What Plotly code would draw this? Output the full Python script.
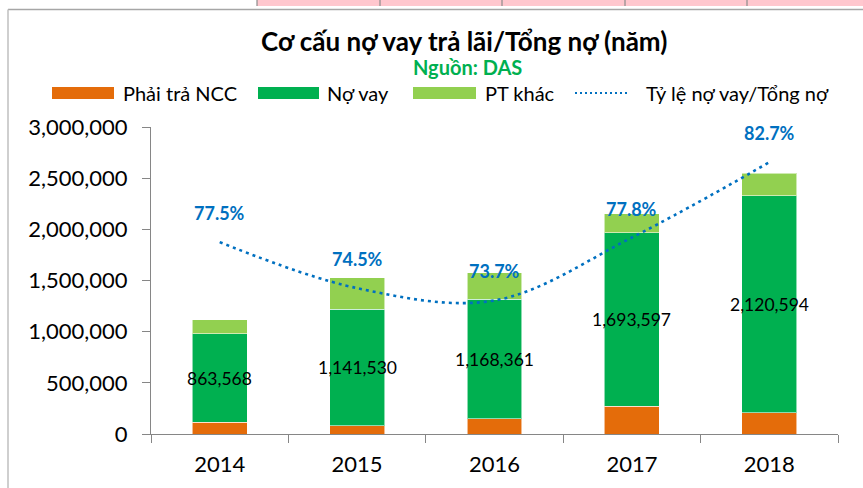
import plotly.graph_objects as go

years = ["2014", "2015", "2016", "2017", "2018"]
phai_tra_ncc = [115000, 80000, 148000, 273000, 206000]
no_vay = [863568, 1141530, 1168361, 1693597, 2120594]
pt_khac = [137000, 303000, 257000, 186000, 221000]
ty_le = [0.775, 0.745, 0.737, 0.778, 0.827]

C_ORANGE = "#E46C0A"
C_GREEN = "#00B050"
C_LGREEN = "#92D050"
C_BLUE = "#0070C0"
FONT = "Lato"

W, H = 863, 488
L, R, T, B = 151, 25, 127, 54
PW = W - L - R
PH = H - T - B


def px(x):
    return (x - L) / PW


def py(y):
    return (H - B - y) / PH


fig = go.Figure()
bar_line = dict(color="rgba(255,255,255,0.55)", width=1)
fig.add_trace(go.Bar(x=years, y=phai_tra_ncc, name="Phải trả NCC",
                     marker=dict(color=C_ORANGE, line=bar_line)))
fig.add_trace(go.Bar(x=years, y=no_vay, name="Nợ vay",
                     marker=dict(color=C_GREEN, line=bar_line)))
fig.add_trace(go.Bar(x=years, y=pt_khac, name="PT khác",
                     marker=dict(color=C_LGREEN, line=bar_line)))
fig.add_trace(go.Scatter(x=years, y=ty_le, name="Tỷ lệ nợ vay/Tổng nợ", yaxis="y2",
                         mode="lines",
                         line=dict(color=C_BLUE, width=2.6, dash="3px,4px",
                                   shape="spline", smoothing=1.0)))

annotations = []
# data labels in the Nợ vay segment
for i, (a, b) in enumerate(zip(phai_tra_ncc, no_vay)):
    annotations.append(dict(x=i, y=a + b / 2, xref="x", yref="y", text=f"{b:,}",
                            showarrow=False, yanchor="middle",
                            font=dict(family=FONT, size=17.5, color="#000000")))
# ratio labels
for i, r in enumerate(ty_le):
    annotations.append(dict(x=i, y=r, xref="x", yref="y2", text=f"{r*100:.1f}%",
                            showarrow=False, yshift=29, yanchor="middle",
                            font=dict(family=FONT, size=18, color=C_BLUE, weight="bold")))

# titles
annotations.append(dict(x=px(464), y=py(41), xref="paper", yref="paper",
                        xanchor="center", yanchor="middle",
                        text="Cơ cấu nợ vay trả lãi/Tổng nợ (năm)", showarrow=False,
                        font=dict(family=FONT, size=26, color="#000000", weight="bold")))
annotations.append(dict(x=px(467), y=py(67), xref="paper", yref="paper",
                        xanchor="center", yanchor="middle",
                        text="Nguồn: DAS", showarrow=False,
                        font=dict(family=FONT, size=20, color=C_GREEN, weight="bold")))

shapes = []
# custom legend
legend_items = [
    (52, 114, C_ORANGE, "Phải trả NCC", 121),
    (258, 319, C_GREEN, "Nợ vay", 325),
    (413, 476, C_LGREEN, "PT khác", 483),
]
for x0, x1, col, label, tx in legend_items:
    shapes.append(dict(type="rect", xref="paper", yref="paper",
                       x0=px(x0), x1=px(x1), y0=py(99), y1=py(87),
                       fillcolor=col, line=dict(width=0)))
    annotations.append(dict(x=px(tx), y=py(93), xref="paper", yref="paper",
                            xanchor="left", yanchor="middle", text=label, showarrow=False,
                            font=dict(family=FONT, size=20, color="#000000")))
shapes.append(dict(type="line", xref="paper", yref="paper",
                   x0=px(575), x1=px(630), y0=py(93), y1=py(93),
                   line=dict(color=C_BLUE, width=2.2, dash="2px,3px")))
annotations.append(dict(x=px(644), y=py(93), xref="paper", yref="paper",
                        xanchor="left", yanchor="middle",
                        text="Tỷ lệ nợ vay/Tổng nợ", showarrow=False,
                        font=dict(family=FONT, size=20, color="#000000")))

# chart frame and spreadsheet artifacts
shapes.append(dict(type="rect", xref="paper", yref="paper",
                   x0=px(257), x1=px(863), y0=py(6), y1=py(0),
                   fillcolor="#FFC7CE", line=dict(width=0), layer="below"))
for xd in [257, 380, 502, 625, 747]:
    shapes.append(dict(type="line", xref="paper", yref="paper",
                       x0=px(xd), x1=px(xd), y0=py(6), y1=py(0),
                       line=dict(color="#8C8C8C", width=1.2)))
shapes.append(dict(type="line", xref="paper", yref="paper",
                   x0=px(8), x1=px(863), y0=py(9.5), y1=py(9.5),
                   line=dict(color="#A6A6A6", width=1.5)))
shapes.append(dict(type="line", xref="paper", yref="paper",
                   x0=px(8), x1=px(8), y0=py(9.5), y1=py(488),
                   line=dict(color="#BFBFBF", width=1.5)))

fig.update_layout(
    width=W, height=H,
    margin=dict(l=L, r=R, t=T, b=B, autoexpand=False),
    barmode="stack", bargap=0.6,
    showlegend=False,
    plot_bgcolor="#FFFFFF", paper_bgcolor="#FFFFFF",
    font=dict(family=FONT, color="#000000"),
    xaxis=dict(type="category", range=[-0.5, 4.5], autorange=False,
               showline=True, linecolor="#868686", linewidth=1.2,
               ticks="outside", tickson="boundaries", ticklen=8, tickcolor="#868686",
               ticklabelstandoff=10,
               tickfont=dict(family=FONT, size=22, color="#000000"),
               showgrid=False, zeroline=False),
    yaxis=dict(range=[0, 3000000], autorange=False, dtick=500000, tickformat=",",
               showline=True, linecolor="#868686", linewidth=1.2, ticks="outside",
               ticklen=8, tickcolor="#868686", ticklabelstandoff=10,
               tickfont=dict(family=FONT, size=22, color="#000000"),
               showgrid=False, zeroline=False),
    yaxis2=dict(range=[0.65, 0.85], autorange=False, overlaying="y", side="right",
                visible=False, showgrid=False, zeroline=False),
    annotations=annotations,
    shapes=shapes,
)

fig.write_html("out.html", config={"displayModeBar": False},
               post_script="document.body.style.margin='0';")
